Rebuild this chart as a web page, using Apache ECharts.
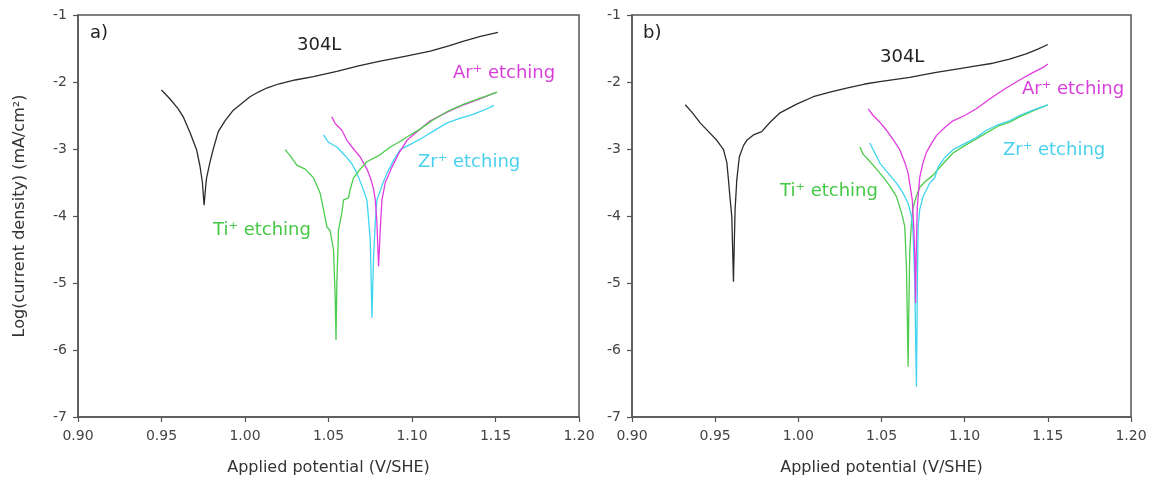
<!DOCTYPE html>
<html><head><meta charset="utf-8">
<script src="https://cdn.jsdelivr.net/npm/echarts@6/dist/echarts.min.js"></script>
<style>html,body{margin:0;padding:0;background:#fff}#c{width:1153px;height:484px}</style>
</head><body><div id="c"></div>
<script>
// ---- data ----
var xTicks = [0.90, 0.95, 1.00, 1.05, 1.10, 1.15, 1.20];
var yTicks = [-7, -6, -5, -4, -3, -2, -1];

var a_304L = [[0.950,-2.12],[0.955,-2.25],[0.960,-2.40],[0.963,-2.52],[0.967,-2.75],[0.971,-3.01],[0.973,-3.25],[0.9745,-3.50],[0.9755,-3.84],[0.9765,-3.55],[0.977,-3.43],[0.979,-3.20],[0.981,-3.00],[0.984,-2.74],[0.988,-2.58],[0.993,-2.42],[0.998,-2.32],[1.003,-2.22],[1.008,-2.15],[1.013,-2.09],[1.020,-2.03],[1.030,-1.97],[1.041,-1.92],[1.055,-1.84],[1.068,-1.76],[1.081,-1.69],[1.095,-1.62],[1.111,-1.54],[1.122,-1.46],[1.131,-1.39],[1.141,-1.32],[1.1515,-1.26]];
var a_Ar = [[1.052,-2.52],[1.054,-2.62],[1.058,-2.72],[1.061,-2.87],[1.065,-3.00],[1.069,-3.12],[1.073,-3.30],[1.075,-3.42],[1.077,-3.60],[1.078,-3.76],[1.079,-4.10],[1.0795,-4.45],[1.080,-4.75],[1.081,-4.20],[1.082,-3.76],[1.084,-3.50],[1.088,-3.27],[1.092,-3.07],[1.097,-2.87],[1.104,-2.72],[1.111,-2.58],[1.121,-2.45],[1.131,-2.34],[1.141,-2.25],[1.150,-2.16]];
var a_Zr = [[1.047,-2.79],[1.050,-2.90],[1.055,-2.97],[1.060,-3.10],[1.064,-3.22],[1.067,-3.36],[1.070,-3.55],[1.073,-3.76],[1.074,-4.05],[1.075,-4.36],[1.0755,-4.90],[1.076,-5.52],[1.077,-4.60],[1.078,-4.10],[1.079,-3.76],[1.082,-3.55],[1.085,-3.36],[1.089,-3.17],[1.093,-3.01],[1.099,-2.93],[1.105,-2.85],[1.113,-2.73],[1.121,-2.61],[1.129,-2.54],[1.137,-2.48],[1.144,-2.41],[1.149,-2.35]];
var a_Ti = [[1.024,-3.01],[1.027,-3.10],[1.031,-3.24],[1.036,-3.30],[1.041,-3.43],[1.045,-3.66],[1.047,-3.90],[1.049,-4.16],[1.051,-4.22],[1.052,-4.24],[1.053,-4.50],[1.054,-5.20],[1.0545,-5.85],[1.055,-5.00],[1.056,-4.21],[1.058,-3.95],[1.059,-3.76],[1.062,-3.73],[1.063,-3.60],[1.065,-3.43],[1.069,-3.30],[1.073,-3.19],[1.080,-3.10],[1.087,-2.97],[1.092,-2.90],[1.097,-2.82],[1.105,-2.70],[1.113,-2.56],[1.122,-2.43],[1.131,-2.33],[1.141,-2.24],[1.151,-2.15]];

var b_304L = [[0.932,-2.34],[0.936,-2.45],[0.941,-2.61],[0.946,-2.74],[0.951,-2.87],[0.955,-3.01],[0.957,-3.20],[0.958,-3.46],[0.959,-3.75],[0.960,-4.01],[0.9605,-4.50],[0.961,-4.98],[0.9615,-4.40],[0.962,-3.90],[0.963,-3.46],[0.9645,-3.12],[0.967,-2.95],[0.969,-2.87],[0.973,-2.79],[0.978,-2.74],[0.983,-2.60],[0.989,-2.46],[0.999,-2.33],[1.009,-2.22],[1.019,-2.15],[1.029,-2.09],[1.040,-2.03],[1.050,-1.99],[1.067,-1.93],[1.082,-1.86],[1.097,-1.80],[1.107,-1.76],[1.117,-1.72],[1.127,-1.66],[1.137,-1.58],[1.144,-1.51],[1.150,-1.44]];
var b_Ar = [[1.042,-2.40],[1.045,-2.50],[1.049,-2.60],[1.053,-2.72],[1.057,-2.86],[1.061,-3.01],[1.064,-3.20],[1.066,-3.36],[1.0685,-3.76],[1.0695,-4.20],[1.070,-4.60],[1.0705,-5.30],[1.071,-4.40],[1.0715,-3.87],[1.073,-3.42],[1.075,-3.20],[1.077,-3.05],[1.080,-2.92],[1.083,-2.80],[1.088,-2.68],[1.093,-2.58],[1.100,-2.50],[1.107,-2.40],[1.117,-2.22],[1.125,-2.09],[1.133,-1.97],[1.141,-1.86],[1.148,-1.77],[1.150,-1.73]];
var b_Zr = [[1.043,-2.91],[1.046,-3.06],[1.049,-3.21],[1.054,-3.36],[1.059,-3.51],[1.063,-3.66],[1.066,-3.81],[1.068,-4.00],[1.069,-4.25],[1.070,-5.00],[1.0705,-5.80],[1.071,-6.55],[1.0715,-5.20],[1.072,-4.16],[1.073,-3.90],[1.075,-3.71],[1.079,-3.51],[1.082,-3.43],[1.084,-3.27],[1.088,-3.13],[1.093,-3.01],[1.100,-2.92],[1.107,-2.83],[1.113,-2.72],[1.120,-2.64],[1.127,-2.58],[1.133,-2.50],[1.141,-2.42],[1.150,-2.34]];
var b_Ti = [[1.037,-2.97],[1.039,-3.08],[1.041,-3.13],[1.046,-3.27],[1.051,-3.42],[1.055,-3.55],[1.059,-3.71],[1.062,-3.95],[1.064,-4.16],[1.065,-4.76],[1.0655,-5.50],[1.066,-6.25],[1.0665,-5.30],[1.067,-4.51],[1.068,-4.10],[1.069,-3.87],[1.071,-3.70],[1.073,-3.57],[1.077,-3.47],[1.081,-3.39],[1.087,-3.22],[1.093,-3.06],[1.100,-2.95],[1.107,-2.85],[1.113,-2.76],[1.120,-2.66],[1.127,-2.60],[1.133,-2.52],[1.141,-2.43],[1.150,-2.34]];

var labelsA = ['304L', 'Ar\u207A etching', 'Zr\u207A etching', 'Ti\u207A etching'];
var yName = 'Log(current density) (mA/cm\u00B2)';
var xName = 'Applied potential (V/SHE)';

// ---- styling ----
var FONT = 'DejaVu Sans';
var C = {k:'#2b2b2b', m:'#e03ce0', c:'#3fd5ef', g:'#4ccc4c'};
var TC = {k:'#222', m:'#d83ed8', c:'#48d0ee', g:'#45c845'};

function xAxis(gi){
  return {type:'value', gridIndex:gi, min:0.90, max:1.20, interval:0.05,
    name:xName, nameLocation:'middle', nameGap:43,
    nameTextStyle:{fontFamily:FONT, fontSize:16, color:'#333'},
    axisLine:{show:true, lineStyle:{color:'#555', width:1.5}},
    axisTick:{show:true, inside:false, length:5, lineStyle:{color:'#555', width:1.2}},
    axisLabel:{fontFamily:FONT, fontSize:14, color:'#444', margin:12,
      formatter:function(v){return v.toFixed(2);}},
    splitLine:{show:false}};
}
function yAxis(gi, withName){
  return {type:'value', gridIndex:gi, min:-7, max:-1, interval:1,
    name: withName ? yName : '', nameLocation:'middle', nameGap:50,
    nameTextStyle:{fontFamily:FONT, fontSize:16, color:'#333'},
    axisLine:{show:true, lineStyle:{color:'#555', width:1.5}},
    axisTick:{show:true, inside:false, length:5, lineStyle:{color:'#555', width:1.2}},
    axisLabel:{fontFamily:FONT, fontSize:14, color:'#444', margin:11},
    splitLine:{show:false}};
}
function line(data, color, xi){
  return {type:'line', data:data, xAxisIndex:xi, yAxisIndex:xi, showSymbol:false,
    symbol:'none', smooth:false, lineStyle:{color:color, width:1.3}, silent:true, animation:false};
}
function txt(x, y, s, color){
  return {type:'text', left:x, top:y, style:{text:s, fill:color, font:'18px "DejaVu Sans"'}};
}

var chart = echarts.init(document.getElementById('c'), null, {renderer:'canvas'});
chart.setOption({
  animation:false,
  grid:[
    {left:78, right:574, top:15, bottom:67, show:true, borderColor:'#555', borderWidth:1.5},
    {left:632, right:22, top:15, bottom:67, show:true, borderColor:'#555', borderWidth:1.5}
  ],
  xAxis:[xAxis(0), xAxis(1)],
  yAxis:[yAxis(0, true), yAxis(1, false)],
  series:[
    line(a_304L, C.k, 0), line(a_Zr, C.c, 0), line(a_Ar, C.m, 0), line(a_Ti, C.g, 0),
    line(b_304L, C.k, 1), line(b_Ti, C.g, 1), line(b_Zr, C.c, 1), line(b_Ar, C.m, 1)
  ],
  graphic:[
    {type:'text', left:90, top:24, style:{text:'a)', fill:'#222', font:'18px "DejaVu Sans"'}},
    {type:'text', left:643, top:24, style:{text:'b)', fill:'#222', font:'18px "DejaVu Sans"'}},
    txt(297, 36, labelsA[0], TC.k),
    txt(453, 64, labelsA[1], TC.m),
    txt(418, 153, labelsA[2], TC.c),
    txt(213, 221, labelsA[3], TC.g),
    txt(880, 48, labelsA[0], TC.k),
    txt(1022, 80, labelsA[1], TC.m),
    txt(1003, 141, labelsA[2], TC.c),
    txt(780, 182, labelsA[3], TC.g)
  ]
});
</script>
</body></html>
